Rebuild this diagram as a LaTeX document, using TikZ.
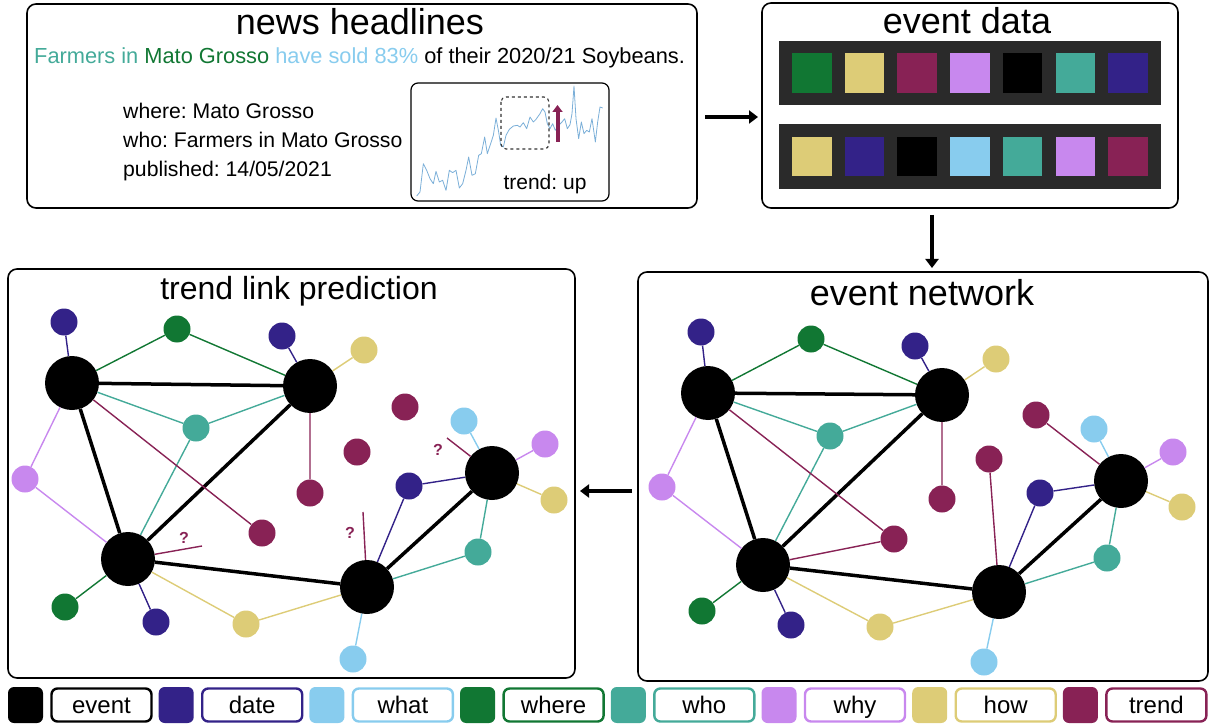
\documentclass[tikz,border=0pt]{standalone}
\usepackage{fontspec}
\setmainfont{Liberation Sans}
\usetikzlibrary{arrows.meta}
\frenchspacing
\definecolor{cEvent}{HTML}{000000}
\definecolor{cDate}{HTML}{332288}
\definecolor{cWhat}{HTML}{88CCEE}
\definecolor{cWhere}{HTML}{117733}
\definecolor{cWho}{HTML}{44AA99}
\definecolor{cWhy}{HTML}{C888EE}
\definecolor{cHow}{HTML}{DDCC77}
\definecolor{cTrend}{HTML}{882255}
\definecolor{cBar}{HTML}{2A2A2A}
\definecolor{cSeries}{HTML}{7BAFD8}
\begin{document}
\begin{tikzpicture}[x=1pt,y=-1pt,
  panel/.style={draw, line width=1.6pt, rounded corners=9pt},
  ev/.style={circle, fill=black, minimum size=54pt, inner sep=0pt},
  sm/.style={circle, minimum size=27pt, inner sep=0pt},
  date/.style={sm, fill=cDate}, what/.style={sm, fill=cWhat},
  where/.style={sm, fill=cWhere}, who/.style={sm, fill=cWho},
  why/.style={sm, fill=cWhy}, how/.style={sm, fill=cHow},
  trend/.style={sm, fill=cTrend},
  eedge/.style={line width=3.5pt},
  sedge/.style={line width=1.4pt},
  bigarrow/.style={line width=4.5pt, -{Triangle[length=9pt,width=13pt]}},
  title/.style={anchor=base, inner sep=0pt},
  qmark/.style={text=cTrend, font=\fontsize{16}{18}\selectfont\bfseries, inner sep=0pt},
  legsq/.style={rounded corners=6pt},
  legbox/.style={draw, line width=2.4pt, rounded corners=6pt, fill=white},
  legtxt/.style={anchor=base, inner sep=0pt, font=\fontsize{24}{26}\selectfont}
]
\useasboundingbox (0,0) rectangle (1209,727);

% ---------------- news headlines panel
\draw[panel] (27,4) rectangle (697,208);
\node[title, font=\fontsize{36}{40}\selectfont] (tnews) at (360,35) {news headlines};
\node[anchor=base west, inner sep=0pt, font=\fontsize{21.8}{24}\selectfont] (sent) at (34,64)
  {\textcolor{cWho}{Farmers in} \textcolor{cWhere}{Mato Grosso} \textcolor{cWhat}{have sold 83\%} of their 2020/21 Soybeans.};
\node[anchor=base west, inner sep=0pt, font=\fontsize{21.2}{24}\selectfont] (aw) at (123,119) {where: Mato Grosso};
\node[anchor=base west, inner sep=0pt, font=\fontsize{21.2}{24}\selectfont] (ao) at (123,148) {who: Farmers in Mato Grosso};
\node[anchor=base west, inner sep=0pt, font=\fontsize{21.2}{24}\selectfont] (ap) at (123,177) {published: 14/05/2021};
% chart
\draw[line width=1.2pt, rounded corners=7pt] (411,83) rectangle (609,201);
\begin{scope}[shift={(410,82)}, scale=1/3]
\draw[cSeries, line width=0.8pt, line join=round]
 (20,342)--(30,330)--(40,245)--(50,265)--(60,290)--(70,305)--(78,268)--(88,300)--(98,295)--(108,325)--(118,265)--(128,272)--(138,265)--(148,318)--(158,305)--(168,265)--(176,225)--(186,280)--(196,275)--(206,220)--(214,215)--(224,165)--(232,215)--(242,185)--(250,160)--(258,108)--(266,150)--(272,190)--(280,195)--(288,160)--(298,142)--(310,132)--(322,130)--(330,135)--(340,122)--(350,140)--(360,105)--(370,120)--(378,112)--(390,95)--(398,80)--(405,90)--(412,125)--(420,140)--(428,125)--(436,145)--(446,130)--(456,120)--(464,110)--(472,140)--(480,128)--(486,95)--(492,12)--(498,110)--(506,170)--(514,120)--(522,155)--(530,145)--(538,150)--(546,110)--(556,180)--(563,120)--(570,75)--(578,78);
\end{scope}
\draw[dashed, line width=1.1pt, rounded corners=5pt, black!80] (501,97) rectangle (549,149);
\coordinate (up0) at (557.5,142);
\coordinate (up1) at (557.5,105);
\draw[cTrend, line width=4pt, -{Triangle[length=7pt,width=10pt]}] (up0) -- (up1);
\node[title, font=\fontsize{21}{24}\selectfont] (tup) at (545,190) {trend: up};

% ---------------- event data panel
\draw[panel] (762,3) rectangle (1178,208);
\node[title, font=\fontsize{36}{40}\selectfont] (tdata) at (967,34) {event data};
\fill[cBar] (779,41) rectangle (1161,105);
\fill[cBar] (779,124) rectangle (1161,189);
\foreach \c [count=\i from 0] in {cWhere,cHow,cTrend,cWhy,cEvent,cWho,cDate}
  \fill[\c] (792+52.7*\i,53) rectangle ++(39.5,40);
\foreach \c [count=\i from 0] in {cHow,cDate,cEvent,cWhat,cWho,cWhy,cTrend}
  \fill[\c] (792+52.7*\i,137) rectangle ++(39.5,39.5);

% ---------------- arrows between panels
\coordinate (a1s) at (705,117); \coordinate (a1e) at (758,117);
\coordinate (a2s) at (932,215); \coordinate (a2e) at (932,268);
\coordinate (a3s) at (632,491); \coordinate (a3e) at (580,491);
\draw[bigarrow] (a1s) -- (a1e);
\draw[bigarrow] (a2s) -- (a2e);
\draw[bigarrow] (a3s) -- (a3e);

% ---------------- trend link prediction panel
\draw[panel] (8,269) rectangle (575,678);
\node[title, font=\fontsize{32}{36}\selectfont] (tlink) at (299,299) {trend link prediction};
\node[ev] (LE1) at (72,383) {};
\node[ev] (LE2) at (310,386) {};
\node[ev] (LE3) at (128,559) {};
\node[ev] (LE4) at (367,587) {};
\node[ev] (LE5) at (492,473) {};
\node[date]  (La) at (64,322) {};
\node[where] (Lb) at (177,329) {};
\node[date]  (Lc) at (282,336) {};
\node[how]   (Ld) at (364,350) {};
\node[who]   (Le) at (196,428) {};
\node[why]   (Lf) at (25,479) {};
\node[trend] (Lg) at (310,493) {};
\node[trend] (Lh) at (262,533) {};
\node[trend] (Li) at (405,407) {};
\node[trend] (Lj) at (357,452) {};
\node[what]  (Lk) at (464,421) {};
\node[why]   (Ll) at (545,444) {};
\node[date]  (Lm) at (409,486) {};
\node[how]   (Ln) at (554,500) {};
\node[who]   (Lo) at (478,552) {};
\node[where] (Lp) at (65,607) {};
\node[date]  (Lq) at (156,622) {};
\node[how]   (Lr) at (246,624) {};
\node[what]  (Ls) at (353,659) {};
\draw[eedge] (LE1)--(LE2) (LE1)--(LE3) (LE2)--(LE3) (LE3)--(LE4) (LE4)--(LE5);
\draw[sedge, cDate] (La)--(LE1) (Lc)--(LE2) (Lm)--(LE5) (Lm)--(LE4) (Lq)--(LE3);
\draw[sedge, cWhere] (Lb)--(LE1) (Lb)--(LE2) (Lp)--(LE3);
\draw[sedge, cHow] (Ld)--(LE2) (Ln)--(LE5) (Lr)--(LE3) (Lr)--(LE4);
\draw[sedge, cWho] (Le)--(LE1) (Le)--(LE2) (Le)--(LE3) (Lo)--(LE5) (Lo)--(LE4);
\draw[sedge, cWhy] (Lf)--(LE1) (Lf)--(LE3) (Ll)--(LE5);
\draw[sedge, cTrend] (Lg)--(LE2) (Lh)--(LE1);
\draw[sedge, cWhat] (Lk)--(LE5) (Ls)--(LE4);
\coordinate (s1) at (202,546);
\coordinate (s2) at (363,512);
\coordinate (s3) at (447,438);
\draw[sedge, cTrend] (LE3)--(s1) (LE4)--(s2) (LE5)--(s3);
\node[qmark] (q1) at (184,538) {?};
\node[qmark] (q2) at (350,533) {?};
\node[qmark] (q3) at (438,450) {?};

% ---------------- event network panel
\draw[panel] (638,272) rectangle (1208,681);
\node[title, font=\fontsize{36}{40}\selectfont] (tnet) at (922,305) {event network};
\node[ev] (RE1) at (708,393) {};
\node[ev] (RE2) at (942,395) {};
\node[ev] (RE3) at (763,565) {};
\node[ev] (RE4) at (999,592) {};
\node[ev] (RE5) at (1121,481) {};
\node[date]  (Ra) at (701,332) {};
\node[where] (Rb) at (811,339) {};
\node[date]  (Rc) at (915,346) {};
\node[how]   (Rd) at (996,359) {};
\node[who]   (Re) at (830,436) {};
\node[why]   (Rf) at (662,487) {};
\node[trend] (Rg) at (942,499) {};
\node[trend] (Rh) at (894,539) {};
\node[trend] (Ri) at (1036,415) {};
\node[trend] (Rj) at (989,459) {};
\node[what]  (Rk) at (1094,429) {};
\node[why]   (Rl) at (1173,452) {};
\node[date]  (Rm) at (1040,493) {};
\node[how]   (Rn) at (1182,507) {};
\node[who]   (Ro) at (1107,558) {};
\node[where] (Rp) at (702,611) {};
\node[date]  (Rq) at (791,625) {};
\node[how]   (Rr) at (880,627) {};
\node[what]  (Rs) at (984,662) {};
\draw[eedge] (RE1)--(RE2) (RE1)--(RE3) (RE2)--(RE3) (RE3)--(RE4) (RE4)--(RE5);
\draw[sedge, cDate] (Ra)--(RE1) (Rc)--(RE2) (Rm)--(RE5) (Rm)--(RE4) (Rq)--(RE3);
\draw[sedge, cWhere] (Rb)--(RE1) (Rb)--(RE2) (Rp)--(RE3);
\draw[sedge, cHow] (Rd)--(RE2) (Rn)--(RE5) (Rr)--(RE3) (Rr)--(RE4);
\draw[sedge, cWho] (Re)--(RE1) (Re)--(RE2) (Re)--(RE3) (Ro)--(RE5) (Ro)--(RE4);
\draw[sedge, cWhy] (Rf)--(RE1) (Rf)--(RE3) (Rl)--(RE5);
\draw[sedge, cTrend] (Rg)--(RE2) (Rh)--(RE1) (Rh)--(RE3) (Ri)--(RE5) (Rj)--(RE4);
\draw[sedge, cWhat] (Rk)--(RE5) (Rs)--(RE4);

% ---------------- legend
\foreach \c/\t [count=\i from 0] in {cEvent/event,cDate/date,cWhat/what,cWhere/where,cWho/who,cWhy/why,cHow/how,cTrend/trend}{
  \fill[legsq, \c] (8+150.7*\i,687) rectangle ++(35,36);
  \draw[legbox, draw=\c] (51.5+150.7*\i,688.5) rectangle ++(100,33);
  \node[legtxt] (leg\i) at (101.5+150.7*\i,713) {\t};
}
\end{tikzpicture}
\end{document}
